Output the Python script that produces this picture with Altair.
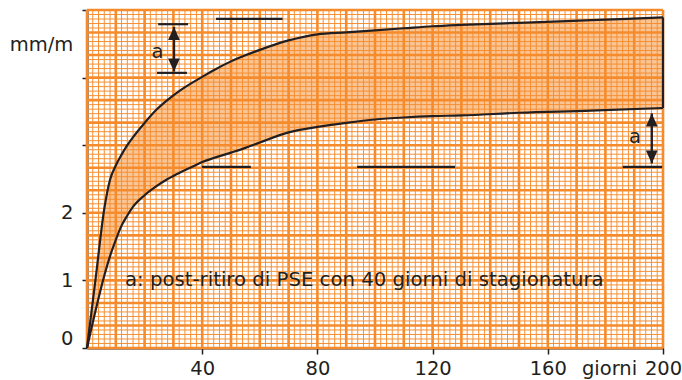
import altair as alt
import pandas as pd

# ---- data ----
days = [0, 3, 6, 8, 10, 12, 14, 16, 20, 24, 28, 32, 36, 40, 44, 50, 55, 60, 70, 80, 90, 100, 110, 120, 130, 150, 175, 200]
upper = [0, 1.03, 2.06, 2.49, 2.70, 2.86, 3.00, 3.12, 3.33, 3.52, 3.67, 3.80, 3.91, 4.01, 4.11, 4.24, 4.33, 4.41, 4.55, 4.64, 4.67, 4.70, 4.73, 4.76, 4.78, 4.81, 4.85, 4.89]
lower = [0, 0.56, 1.07, 1.36, 1.60, 1.81, 1.96, 2.09, 2.26, 2.39, 2.50, 2.59, 2.67, 2.75, 2.81, 2.89, 2.96, 3.04, 3.19, 3.27, 3.33, 3.38, 3.41, 3.43, 3.44, 3.48, 3.51, 3.55]

seg_x1 = [24.7, 24.3, 44.8, 39.9, 93.8, 186.0]
seg_x2 = [35.1, 34.7, 67.9, 56.9, 127.8, 199.7]
seg_y = [4.79, 4.07, 4.87, 2.68, 2.68, 2.68]

arrow_x = [30.2, 196.1]
arrow_top = [4.75, 3.47]
arrow_bottom = [4.09, 2.73]

a_x = [24.5, 190.3]
a_y = [4.38, 3.12]

caption = "a: post-ritiro di PSE con 40 giorni di stagionatura"
caption_x = [13.2]
caption_y = [1.0]

x_ticks = [40, 80, 120, 160, 200]
y_ticks = [0, 1, 2, 3, 4, 5]

ORANGE = "#f68b2c"
INK = "#231f20"
FONT = "DejaVu Sans"
FS = 19.5

curves = pd.DataFrame({"day": days, "upper": upper, "lower": lower})
segs = pd.DataFrame({"x1": seg_x1, "x2": seg_x2, "y": seg_y})
arrows = pd.DataFrame({"x": arrow_x, "top": arrow_top, "bottom": arrow_bottom})
alabels = pd.DataFrame({"x": a_x, "y": a_y, "t": ["a", "a"]})
cap = pd.DataFrame({"x": caption_x, "y": caption_y, "t": [caption]})

xscale = alt.Scale(domain=[0, 200], nice=False, zero=False)
yscale = alt.Scale(domain=[0, 5], nice=False, zero=False)

xaxis = alt.Axis(
    values=x_ticks, title="giorni", titleX=522, titleY=26, titleAlign="center",
    titleBaseline="alphabetic", titleFont=FONT, titleFontSize=FS, titleFontWeight="normal",
    titleColor=INK, labelFlush=False, labelBaseline="alphabetic", labelPadding=20,
    labelFont=FONT, labelFontSize=FS, labelColor=INK, tickSize=6, tickWidth=1.5,
    tickColor=INK, domainColor=INK, domainWidth=2, grid=False,
)
yaxis = alt.Axis(
    values=y_ticks, labelExpr="datum.value <= 2 ? datum.label : ''",
    title="mm/m", titleAngle=0, titleX=-46, titleY=34, titleAlign="center",
    titleBaseline="middle", titleFont=FONT, titleFontSize=FS, titleFontWeight="normal",
    titleColor=INK,
    labelBaseline={"condition": {"test": "datum.value == 0", "value": "bottom"}, "value": "middle"},
    labelFont=FONT, labelFontSize=FS, labelColor=INK, labelPadding=9,
    tickSize=5, tickWidth=1.5, tickColor=INK, domainColor=INK, domainWidth=2, grid=False,
)


def X(f):
    return alt.X(f, type="quantitative", scale=xscale, axis=xaxis)


def Y(f):
    return alt.Y(f, type="quantitative", scale=yscale, axis=yaxis)


# grid (graph paper)
x_minor = alt.Chart(alt.sequence(0, 201, 2, as_="v")).mark_rule(
    color=ORANGE, strokeWidth=1, opacity=0.95).encode(x=X("v:Q"))
x_major = alt.Chart(alt.sequence(0, 201, 10, as_="v")).mark_rule(
    color=ORANGE, strokeWidth=2.6).encode(x=X("v:Q"))
y_minor = alt.Chart(alt.sequence(0, 76, 1, as_="k")).transform_calculate(
    v="datum.k / 15").mark_rule(color=ORANGE, strokeWidth=1, opacity=0.95).encode(y=Y("v:Q"))
y_major = alt.Chart(alt.sequence(0, 16, 1, as_="k")).transform_calculate(
    v="datum.k / 3").mark_rule(color=ORANGE, strokeWidth=2.6).encode(y=Y("v:Q"))

base = alt.Chart(curves)
band = base.mark_area(color=ORANGE, opacity=0.5, interpolate="monotone").encode(
    x=X("day"), y=Y("upper"), y2="lower")
up_line = base.mark_line(color=INK, strokeWidth=2.2, interpolate="monotone").encode(
    x=X("day"), y=Y("upper"))
lo_line = base.mark_line(color=INK, strokeWidth=2.2, interpolate="monotone").encode(
    x=X("day"), y=Y("lower"))
end_rule = base.transform_filter("datum.day == 200").mark_rule(
    color=INK, strokeWidth=2.2).encode(x=X("day"), y=Y("lower"), y2="upper")

seg_rules = alt.Chart(segs).mark_rule(color=INK, strokeWidth=2.2).encode(
    x=X("x1"), x2="x2", y=Y("y"))

shafts = alt.Chart(arrows).mark_rule(color=INK, strokeWidth=2.4).encode(
    x=X("x"), y=Y("top"), y2="bottom")
head_up = alt.Chart(arrows).mark_point(
    shape="M0,0L0.9,2L-0.9,2Z", filled=True, size=169, color=INK, opacity=1).encode(
    x=X("x"), y=Y("top"))
head_dn = alt.Chart(arrows).mark_point(
    shape="M0,0L0.9,-2L-0.9,-2Z", filled=True, size=169, color=INK, opacity=1).encode(
    x=X("x"), y=Y("bottom"))

a_text = alt.Chart(alabels).mark_text(
    font=FONT, fontSize=FS, color=INK, align="center", baseline="middle").encode(
    x=X("x"), y=Y("y"), text="t")
cap_text = alt.Chart(cap).mark_text(
    font=FONT, fontSize=19.7, color=INK, align="left", baseline="middle").encode(
    x=X("x"), y=Y("y"), text="t")

chart = alt.layer(
    x_minor, y_minor, x_major, y_major, band, up_line, lo_line, end_rule,
    seg_rules, shafts, head_up, head_dn, a_text, cap_text,
).properties(
    width=576, height=338,
    autosize=alt.AutoSizeParams(type="none"),
    padding={"left": 87, "top": 10, "right": 19, "bottom": 32},
    background="white",
).configure_view(stroke=None)

chart.save("out.html", embed_options={"renderer": "svg", "actions": False})
